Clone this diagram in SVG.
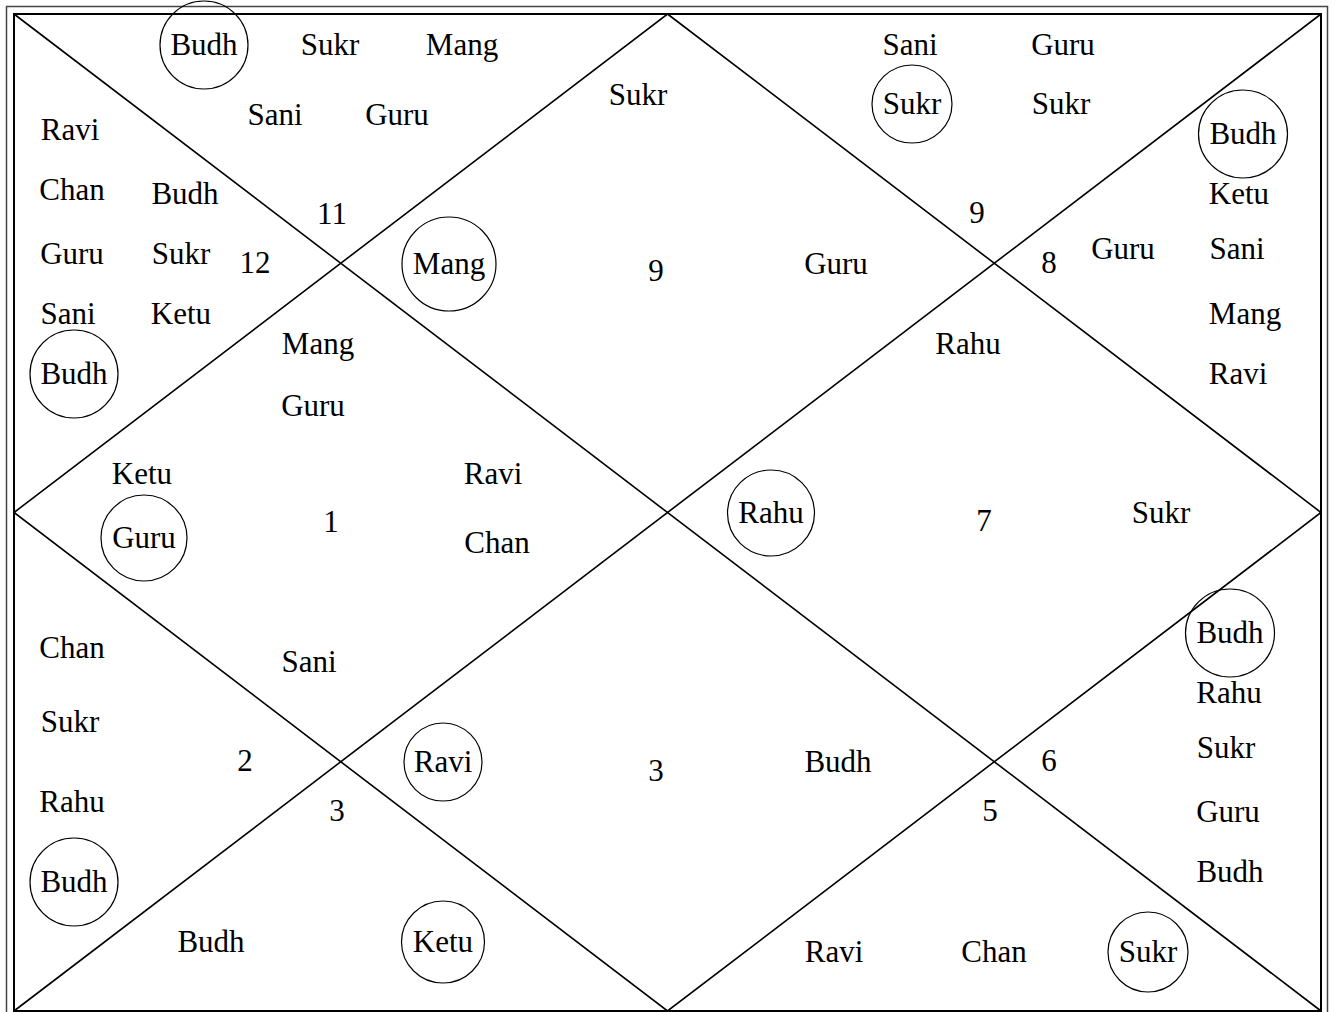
<svg xmlns="http://www.w3.org/2000/svg" width="1336" height="1012" viewBox="0 0 1336 1012">
<style>
text{font-family:"Liberation Serif","Times New Roman",serif;font-size:31px;fill:#000;text-anchor:middle}
.c{fill:none;stroke:#000;stroke-width:1.2}
.ln{stroke:#000;stroke-width:1.6;fill:none}
</style>
<rect x="0" y="0" width="1336" height="1012" fill="#fff"/>
<rect x="6.5" y="6.5" width="1321" height="1030" fill="none" stroke="#444" stroke-width="1.5"/>
<rect x="14" y="14" width="1307" height="997" fill="none" stroke="#000" stroke-width="2"/>
<g id="connectors" class="ln">
<line x1="14" y1="14" x2="1321" y2="1011"/>
<line x1="1321" y1="14" x2="14" y2="1011"/>
<polygon points="667.5,14 1321,512.5 667.5,1011 14,512.5"/>
</g>
<g id="house-top-left">
<ellipse class="c" cx="204" cy="45" rx="44" ry="44"/>
<text x="204" y="55">Budh</text>
<text x="330" y="55">Sukr</text>
<text x="462" y="55">Mang</text>
<text x="275" y="125">Sani</text>
<text x="397" y="125">Guru</text>
<text x="332" y="224">11</text>
</g>
<g id="house-left-top">
<text x="70" y="140">Ravi</text>
<text x="72" y="200">Chan</text>
<text x="185" y="204">Budh</text>
<text x="72" y="264">Guru</text>
<text x="181" y="264">Sukr</text>
<text x="255" y="273">12</text>
<text x="68" y="324">Sani</text>
<text x="181" y="324">Ketu</text>
<ellipse class="c" cx="74" cy="374" rx="44" ry="44"/>
<text x="74" y="384">Budh</text>
</g>
<g id="house-top">
<text x="638" y="105">Sukr</text>
<ellipse class="c" cx="449" cy="264" rx="47" ry="47"/>
<text x="449" y="274">Mang</text>
<text x="656" y="281">9</text>
<text x="836" y="274">Guru</text>
</g>
<g id="house-top-right">
<text x="910" y="55">Sani</text>
<text x="1063" y="55">Guru</text>
<ellipse class="c" cx="912" cy="104" rx="40" ry="39"/>
<text x="912" y="114">Sukr</text>
<text x="1061" y="114">Sukr</text>
<text x="977" y="223">9</text>
</g>
<g id="house-right-top">
<ellipse class="c" cx="1243" cy="134" rx="44.5" ry="44"/>
<text x="1243" y="144">Budh</text>
<text x="1239" y="204">Ketu</text>
<text x="1123" y="259">Guru</text>
<text x="1049" y="273">8</text>
<text x="1237" y="259">Sani</text>
<text x="1245" y="324">Mang</text>
<text x="1238" y="384">Ravi</text>
</g>
<g id="house-left">
<text x="318" y="354">Mang</text>
<text x="313" y="416">Guru</text>
<text x="142" y="484">Ketu</text>
<ellipse class="c" cx="144" cy="538" rx="43" ry="43"/>
<text x="144" y="548">Guru</text>
<text x="331" y="532">1</text>
<text x="493" y="484">Ravi</text>
<text x="497" y="553">Chan</text>
<text x="309" y="672">Sani</text>
</g>
<g id="house-right">
<text x="968" y="354">Rahu</text>
<ellipse class="c" cx="771" cy="513" rx="43.5" ry="43"/>
<text x="771" y="523">Rahu</text>
<text x="984" y="531">7</text>
<text x="1161" y="523">Sukr</text>
</g>
<g id="house-left-bottom">
<text x="72" y="658">Chan</text>
<text x="70" y="732">Sukr</text>
<text x="245" y="771">2</text>
<text x="72" y="812">Rahu</text>
<ellipse class="c" cx="74" cy="882" rx="44" ry="44"/>
<text x="74" y="892">Budh</text>
</g>
<g id="house-bottom">
<ellipse class="c" cx="443" cy="762" rx="39" ry="39"/>
<text x="443" y="772">Ravi</text>
<text x="656" y="781">3</text>
<text x="838" y="772">Budh</text>
</g>
<g id="house-bottom-left">
<text x="337" y="821">3</text>
<text x="211" y="952">Budh</text>
<ellipse class="c" cx="443" cy="942" rx="41.5" ry="41"/>
<text x="443" y="952">Ketu</text>
</g>
<g id="house-bottom-right">
<text x="990" y="821">5</text>
<text x="834" y="962">Ravi</text>
<text x="994" y="962">Chan</text>
<ellipse class="c" cx="1148" cy="952" rx="40" ry="40"/>
<text x="1148" y="962">Sukr</text>
</g>
<g id="house-right-bottom">
<ellipse class="c" cx="1230" cy="633" rx="44.5" ry="44"/>
<text x="1230" y="643">Budh</text>
<text x="1229" y="703">Rahu</text>
<text x="1226" y="758">Sukr</text>
<text x="1049" y="771">6</text>
<text x="1228" y="822">Guru</text>
<text x="1230" y="882">Budh</text>
</g>
</svg>
